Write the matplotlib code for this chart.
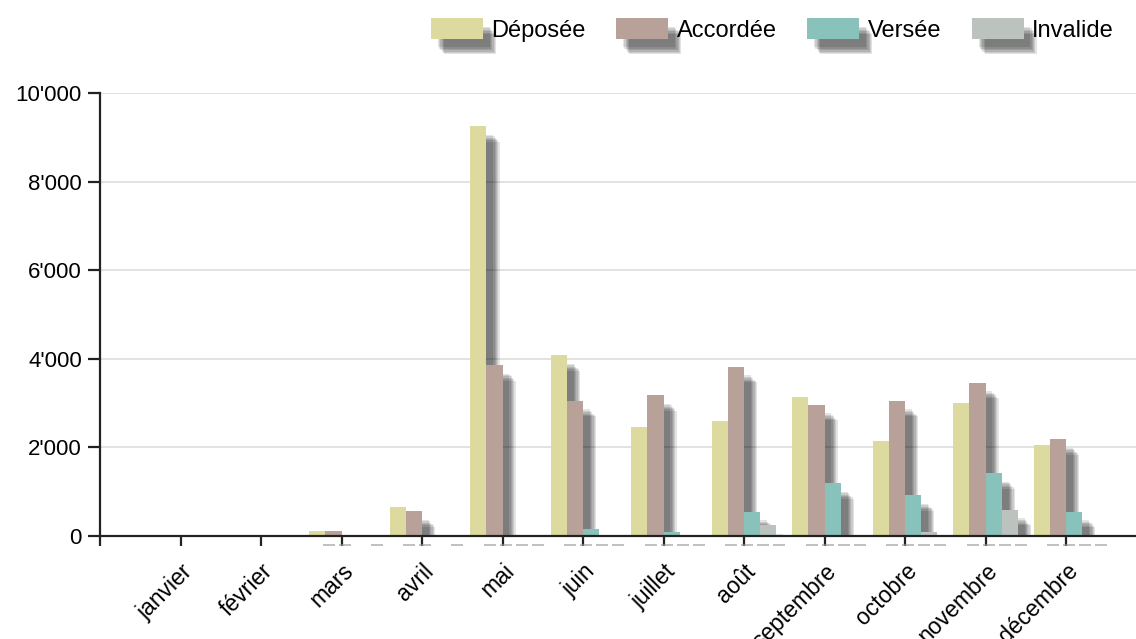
import numpy as np
import matplotlib
matplotlib.use("Agg")
import matplotlib.pyplot as plt
import matplotlib.patheffects as pe
from matplotlib.ticker import FuncFormatter

months = ["janvier", "février", "mars", "avril", "mai", "juin", "juillet",
          "août", "septembre", "octobre", "novembre", "décembre"]
deposee = [np.nan, np.nan, 110, 650, 9250, 4080, 2460, 2600, 3140, 2140, 3010, 2050]
accordee = [np.nan, np.nan, 110, 560, 3860, 3050, 3180, 3820, 2960, 3050, 3460, 2190]
versee = [np.nan, np.nan, 0, 0, 30, 150, 100, 550, 1190, 920, 1420, 550]
invalide = [np.nan, np.nan, 20, 20, 20, 20, 20, 250, 30, 90, 590, 20]

series = [("Déposée", deposee, "#dcda9e"),
          ("Accordée", accordee, "#b8a199"),
          ("Versée", versee, "#89c2ba"),
          ("Invalide", invalide, "#bcc3bf")]

plt.rcParams["font.family"] = ["Liberation Sans", "DejaVu Sans"]
plt.rcParams["font.size"] = 16

fig = plt.figure(figsize=(11.36, 6.39), dpi=100)
ax = fig.add_axes([100 / 1136, 103 / 639, 1036 / 1136, 443 / 639])

# soft drop shadow: several faint offset copies
shadow = [pe.SimplePatchShadow(offset=(5.0 + 0.9 * k, -6.2 - 1.0 * k),
                               shadow_rgbFace="k", alpha=0.11)
          for k in range(6)] + [pe.Normal()]

x = np.arange(1, 13)
w = 0.2
for i, (name, vals, color) in enumerate(series):
    pos = x + (i - 1.5) * w
    vals = np.array(vals, dtype=float)
    bars = ax.bar(pos, vals, width=w, color=color, label=name, zorder=3)
    for b in bars:
        b.set_path_effects(shadow)
    # small shadow traces below the baseline
    ok = ~np.isnan(vals) & (vals > 0)
    ax.bar(pos[ok] + 0.14, np.full(ok.sum(), 55), bottom=-235, width=0.15,
           color="#999999", alpha=0.6, clip_on=False, zorder=1, linewidth=0)

ax.set_xlim(0, 1036 / 80.5)
ax.set_ylim(0, 10000)
ax.set_yticks(np.arange(0, 10001, 2000))
ax.yaxis.set_major_formatter(FuncFormatter(lambda v, p: f"{int(v):,}".replace(",", "'")))
ax.set_xticks(np.arange(0, 13))
ax.set_xticklabels([""] + months, rotation=45, ha="right", va="top",
                   rotation_mode="anchor")

ax.grid(axis="y", color="#dddddd", linewidth=1.2, zorder=0)
ax.set_axisbelow(True)
for s in ["top", "right"]:
    ax.spines[s].set_visible(False)
for s in ["left", "bottom"]:
    ax.spines[s].set_linewidth(1.6)
    ax.spines[s].set_color("#222222")
    ax.spines[s].set_zorder(4)
ax.tick_params(axis="y", length=9, width=1.6, color="#222222", pad=4, labelsize=16)
ax.tick_params(axis="x", length=7, width=1.6, color="#222222", pad=10, labelsize=16.5)

fig.legend(loc="upper right", bbox_to_anchor=(1123 / 1136, 1 - 9 / 639), ncol=4,
           frameon=False, fontsize=17, handlelength=2.2, handleheight=0.95,
           handletextpad=0.35, columnspacing=1.3, borderaxespad=0)

fig.savefig("out.png", dpi=100)
